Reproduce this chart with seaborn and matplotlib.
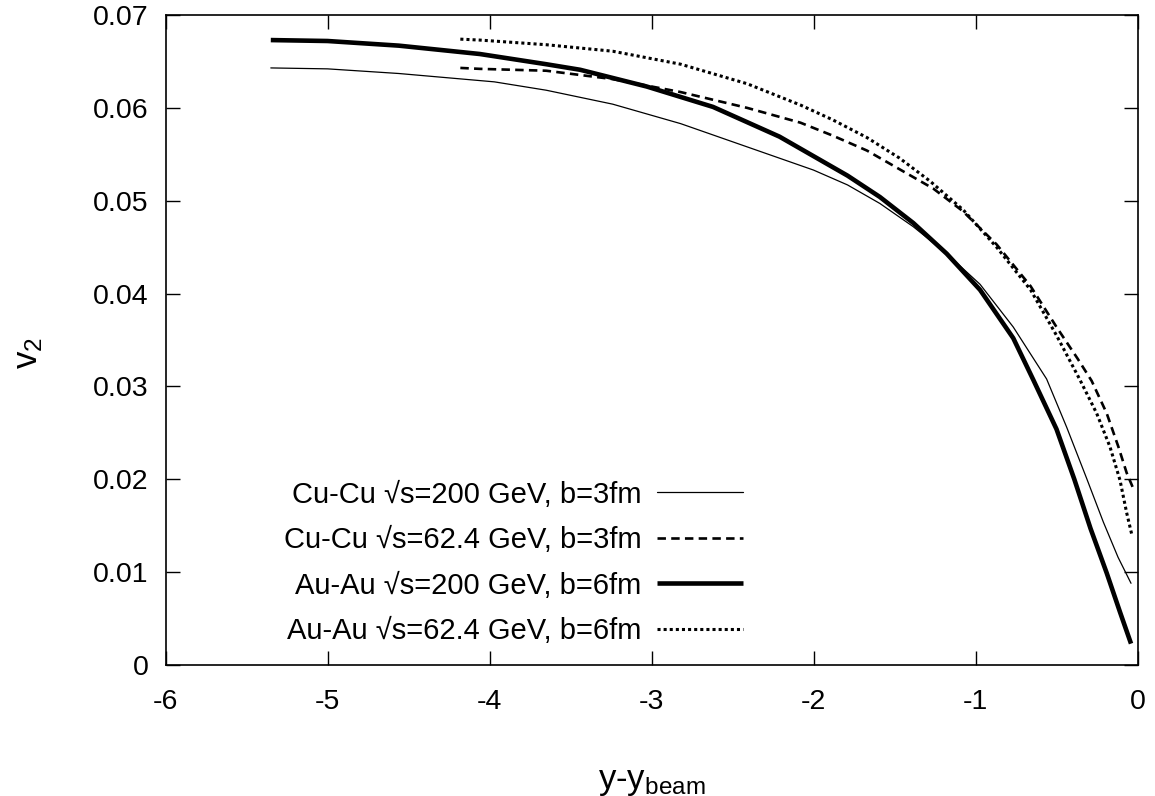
import matplotlib
matplotlib.use("Agg")
import matplotlib.pyplot as plt
import seaborn as sns
import numpy as np

# ---- data ----
x_cucu200 = [-5.35, -5.0, -4.56, -3.97, -3.65, -3.24, -2.82, -2.41, -2.0, -1.79, -1.59, -1.384, -1.178,
             -0.972, -0.767, -0.561, -0.437, -0.314, -0.211, -0.12, -0.04]
v_cucu200 = [0.0643, 0.0642, 0.0637, 0.0628, 0.0619, 0.0604, 0.0583, 0.0558, 0.0533, 0.0517, 0.0497, 0.0472, 0.0443,
             0.0410, 0.0364, 0.0308, 0.0256, 0.0201, 0.0154, 0.0116, 0.0088]

x_cucu62 = [-4.18, -4.06, -3.65, -3.24, -2.82, -2.41, -2.08, -1.88, -1.67, -1.47, -1.26, -1.08,
            -0.87, -0.66, -0.50, -0.37, -0.283, -0.19, -0.118, -0.067, -0.026]
v_cucu62 = [0.0643, 0.0642, 0.0640, 0.0631, 0.0617, 0.0600, 0.0584, 0.0570, 0.0554, 0.0534, 0.0513, 0.0489,
            0.0453, 0.0408, 0.0364, 0.0330, 0.0306, 0.0271, 0.0235, 0.0207, 0.0190]

x_auau200 = [-5.35, -5.0, -4.56, -4.06, -3.65, -3.44, -3.03, -2.62, -2.21, -2.0, -1.79, -1.59, -1.384,
             -1.178, -0.972, -0.767, -0.643, -0.50, -0.39, -0.29, -0.19, -0.108, -0.04]
v_auau200 = [0.0673, 0.0672, 0.0667, 0.0658, 0.0647, 0.0641, 0.0623, 0.0601, 0.0569, 0.0548, 0.0527, 0.0504, 0.0476,
             0.0443, 0.0404, 0.0352, 0.0307, 0.0254, 0.0200, 0.0147, 0.0099, 0.0057, 0.0023]

x_auau62 = [-4.18, -4.06, -3.65, -3.24, -2.82, -2.41, -2.08, -1.88, -1.67, -1.47, -1.28, -1.075,
            -0.87, -0.66, -0.50, -0.355, -0.252, -0.17, -0.108, -0.067, -0.036]
v_auau62 = [0.0674, 0.0673, 0.0668, 0.0661, 0.0647, 0.0626, 0.0603, 0.0587, 0.0568, 0.0546, 0.0521, 0.0490,
            0.0450, 0.0404, 0.0355, 0.0307, 0.0271, 0.0235, 0.0199, 0.0164, 0.0141]

labels = ["Cu-Cu \u221as=200 GeV, b=3fm",
          "Cu-Cu \u221as=62.4 GeV, b=3fm",
          "Au-Au \u221as=200 GeV, b=6fm",
          "Au-Au \u221as=62.4 GeV, b=6fm"]

x_ticks = [-6, -5, -4, -3, -2, -1, 0]
x_ticklabels = ["-6", "-5", "-4", "-3", "-2", "-1", "0"]
y_ticks = [0, 0.01, 0.02, 0.03, 0.04, 0.05, 0.06, 0.07]
y_ticklabels = ["0", "0.01", "0.02", "0.03", "0.04", "0.05", "0.06", "0.07"]

# ---- style ----
sns.set_style("ticks")
plt.rcParams["font.family"] = ["Liberation Sans", "DejaVu Sans"]
plt.rcParams["axes.unicode_minus"] = False
plt.rcParams["mathtext.fontset"] = "custom"
plt.rcParams["mathtext.rm"] = "Liberation Sans"
plt.rcParams["mathtext.it"] = "Liberation Sans"
for k in ["text.color", "axes.labelcolor", "xtick.color", "ytick.color", "axes.edgecolor"]:
    plt.rcParams[k] = "black"

fig = plt.figure(figsize=(11.55, 7.96), dpi=100)
ax = fig.add_axes([165.5 / 1155, 1 - 665 / 796, (1137.5 - 165.5) / 1155, (665 - 15) / 796])

series = [
    (x_cucu200, v_cucu200, dict(lw=0.9, linestyle="-")),
    (x_cucu62, v_cucu62, dict(lw=1.9, linestyle=(0, (3.2, 2.0)))),
    (x_auau200, v_auau200, dict(lw=3.3, linestyle="-", solid_capstyle="butt")),
    (x_auau62, v_auau62, dict(lw=2.2, linestyle=(0, (1.0, 1.0)))),
]
for (xs, vs, kw), lab in zip(series, labels):
    sns.lineplot(x=xs, y=vs, ax=ax, color="black", sort=False, estimator=None,
                 label=lab, **kw)

ax.set_xlim(-6, 0)
ax.set_ylim(0, 0.07)
ax.set_xticks(x_ticks)
ax.set_xticklabels(x_ticklabels)
ax.set_yticks(y_ticks)
ax.set_yticklabels(y_ticklabels)

for s in ax.spines.values():
    s.set_linewidth(1.2)
    s.set_visible(True)
    s.set_color("black")
ax.tick_params(axis="both", which="major", direction="in", length=10, width=1.0,
               top=True, right=True, labelsize=20.5, colors="black")
ax.tick_params(axis="x", pad=17)
ax.tick_params(axis="y", pad=12)

ax.set_xlabel("y-y$_{\\rm beam}$", fontsize=25, labelpad=36)
ax.set_ylabel("v$_2$", fontsize=25)
ax.yaxis.set_label_coords(-0.124, 0.48)

leg = ax.legend(loc="center", bbox_to_anchor=(0.3580, 0.157), frameon=False,
                markerfirst=False, fontsize=21, handlelength=2.95, handletextpad=0.55,
                labelspacing=0.6, borderpad=0, borderaxespad=0)
leg._legend_box.align = "right"

fig.savefig("out.png", dpi=100)
